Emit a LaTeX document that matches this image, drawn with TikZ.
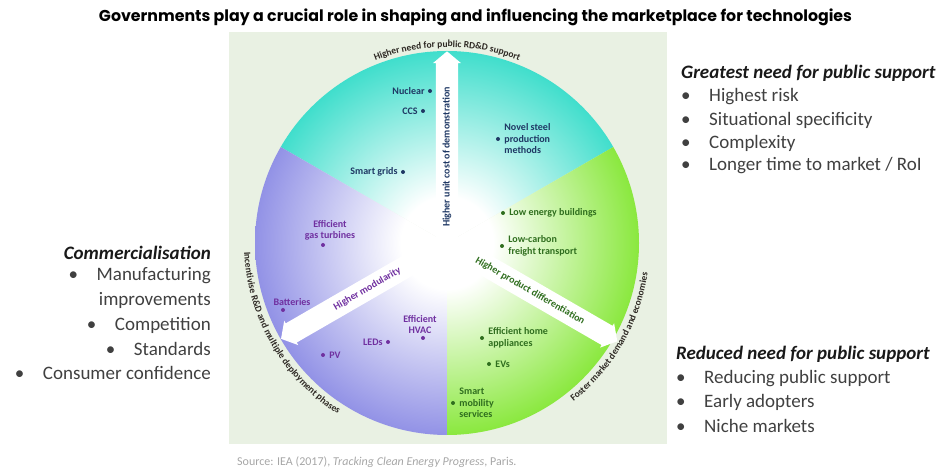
\documentclass[tikz,border=0pt]{standalone}
\usepackage{fontspec}
\setmainfont{Carlito}
\newfontfamily\titlefont{Poppins}
\usetikzlibrary{positioning,shapes.arrows,decorations.text}

\definecolor{panel}{RGB}{233,241,227}
\definecolor{turq}{RGB}{64,222,204}
\definecolor{lav}{RGB}{146,146,230}
\definecolor{lime}{RGB}{138,232,62}
\definecolor{navytxt}{RGB}{31,56,100}
\definecolor{greentxt}{RGB}{47,110,30}
\definecolor{purptxt}{RGB}{112,48,160}
\definecolor{arctxt}{RGB}{45,40,35}
\definecolor{itemgray}{RGB}{64,64,64}
\definecolor{srcgray}{RGB}{166,166,166}

\pgfdeclareradialshading{turqshade}{\pgfpoint{0bp}{0bp}}{color(0bp)=(white); color(6bp)=(white); color(25bp)=(turq); color(50bp)=(turq)}
\pgfdeclareradialshading{lavshade}{\pgfpoint{0bp}{0bp}}{color(0bp)=(white); color(6bp)=(white); color(25bp)=(lav); color(50bp)=(lav)}
\pgfdeclareradialshading{limeshade}{\pgfpoint{0bp}{0bp}}{color(0bp)=(white); color(6bp)=(white); color(25bp)=(lime); color(50bp)=(lime)}

\newcommand{\arcfont}{\fontsize{9.5}{10}\selectfont\bfseries\color{arctxt}}
\newcommand{\bul}{\makebox[28pt][l]{\textbullet}}

\tikzset{arclabel/.style={decorate, decoration={text along path, text align=center, text={|\arcfont|#1}}}}

\begin{document}
\begin{tikzpicture}[x=1pt, y=1pt]
	\tikzstyle{techdot} = [circle, inner sep=0pt, minimum size=4pt]
	\tikzstyle{bluelab} = [inner sep=1pt, align=left, text=navytxt, font=\fontsize{10}{11.5}\selectfont\bfseries]
	\tikzstyle{greenlab} = [inner sep=1pt, align=left, text=greentxt, font=\fontsize{10}{11.5}\selectfont\bfseries]
	\tikzstyle{purplelab} = [inner sep=1pt, align=center, text=purptxt, font=\fontsize{10}{11.5}\selectfont\bfseries]
	\tikzstyle{bigarrow} = [single arrow, fill=white, inner xsep=2pt, inner ysep=6.5pt, single arrow head extend=3pt, single arrow tip angle=100, font=\fontsize{10}{11}\selectfont\bfseries]
	\tikzstyle{listhead} = [inner sep=0pt, text=black!90, font=\fontsize{19}{22}\selectfont\bfseries\itshape]
	\tikzstyle{listitem} = [inner sep=0pt, text=itemgray, font=\fontsize{19}{22}\selectfont]
	\useasboundingbox (0,0) rectangle (945,468);

	% title
	\node (title) [inner sep=0pt] at (475.5,451) {\resizebox{753pt}{!}{\titlefont\bfseries\fontsize{15}{18}\selectfont Governments play a crucial role in shaping and influencing the marketplace for technologies}};

	% panel and wheel
	\fill[panel] (229,24) rectangle (667,436);
	\coordinate (c) at (447,225);
	\begin{scope}
		\clip (c) -- ([shift={(30:192)}]c) arc[start angle=30, end angle=150, radius=192] -- cycle;
		\shade[shading=turqshade] (c) circle[radius=192];
	\end{scope}
	\begin{scope}
		\clip (c) -- ([shift={(150:192)}]c) arc[start angle=150, end angle=270, radius=192] -- cycle;
		\shade[shading=lavshade] (c) circle[radius=192];
	\end{scope}
	\begin{scope}
		\clip (c) -- ([shift={(270:192)}]c) arc[start angle=270, end angle=390, radius=192] -- cycle;
		\shade[shading=limeshade] (c) circle[radius=192];
	\end{scope}

	% labels round the wheel
	\path[arclabel={Higher need for public RD{\&}D support}] ([shift={(135:196)}]c) arc[start angle=135, end angle=45, radius=196];
	\path[arclabel={Incentivise R{\&}D and multiple deployment phases}] ([shift={(155:203)}]c) arc[start angle=155, end angle=265, radius=203];
	\path[arclabel={Foster market demand and economies}] ([shift={(275:203)}]c) arc[start angle=275, end angle=385, radius=203];

	% arrows
	\node (demo) [bigarrow, rotate=90, minimum height=202pt] at ([shift={(90:86)}]c) {\color{navytxt}Higher unit cost of demonstration};
	\node (modular) [bigarrow, rotate=30, shape border rotate=180, minimum height=190pt] at ([shift={(210:92)}]c) {\color{purptxt}Higher modularity};
	\node (product) [bigarrow, rotate=-30, minimum height=192pt] at ([shift={(330:96)}]c) {\color{greentxt}Higher product differentiation};

	% technologies
	\node (nuclear) [techdot, fill=navytxt] at (430,377) {};
	\node (nuclearlab) [bluelab, left=2pt of nuclear] {Nuclear};
	\node (ccs) [techdot, fill=navytxt] at (423,357) {};
	\node (ccslab) [bluelab, left=2pt of ccs] {CCS};
	\node (grids) [techdot, fill=navytxt] at (403,296) {};
	\node (gridslab) [bluelab, left=2pt of grids] {Smart grids};
	\node (steel) [techdot, fill=navytxt] at (498,329) {};
	\node (steellab) [bluelab, right=3pt of steel] {Novel steel\\production\\methods};

	\node (build) [techdot, fill=greentxt] at (503,255) {};
	\node (buildlab) [greenlab, right=3pt of build] {Low energy buildings};
	\node (freight) [techdot, fill=greentxt] at (502,222) {};
	\node (freightlab) [greenlab, right=3pt of freight] {Low-carbon\\freight transport};
	\node (homes) [techdot, fill=greentxt] at (482,130) {};
	\node (homeslab) [greenlab, right=3pt of homes] {Efficient home\\appliances};
	\node (evs) [techdot, fill=greentxt] at (489,104) {};
	\node (evslab) [greenlab, right=3pt of evs] {EVs};
	\node (mobility) [techdot, fill=greentxt] at (453,65) {};
	\node (mobilitylab) [greenlab, right=3pt of mobility] {Smart\\mobility\\services};

	\node (gas) [techdot, fill=purptxt] at (323,223) {};
	\node (gaslab) [purplelab, above=1pt of gas, xshift=7pt] {Efficient\\gas turbines};
	\node (batt) [techdot, fill=purptxt] at (283,158) {};
	\node (battlab) [purplelab, above=1pt of batt, xshift=9pt] {Batteries};
	\node (hvac) [techdot, fill=purptxt] at (423,130) {};
	\node (hvaclab) [purplelab, above=1pt of hvac, xshift=-3pt] {Efficient\\HVAC};
	\node (leds) [techdot, fill=purptxt] at (388,126) {};
	\node (ledslab) [purplelab, left=2pt of leds] {LEDs};
	\node (pv) [techdot, fill=purptxt] at (323,113) {};
	\node (pvlab) [purplelab, right=3pt of pv] {PV};

	% side lists
	\node (great) [listhead, anchor=west] at (681,395) {Greatest need for public support};
	\node (great1) [listitem, anchor=west] at (681,371) {\bul Highest risk};
	\node (great2) [listitem, anchor=west] at (681,348) {\bul Situational specificity};
	\node (great3) [listitem, anchor=west] at (681,325) {\bul Complexity};
	\node (great4) [listitem, anchor=west] at (681,302) {\bul Longer time to market / RoI};

	\node (reduced) [listhead, anchor=west] at (676,114) {Reduced need for public support};
	\node (reduced1) [listitem, anchor=west] at (676,89) {\bul Reducing public support};
	\node (reduced2) [listitem, anchor=west] at (676,66) {\bul Early adopters};
	\node (reduced3) [listitem, anchor=west] at (676,42) {\bul Niche markets};

	\node (comm) [listhead, anchor=east] at (211,215) {Commercialisation};
	\node (comm1) [listitem, anchor=east] at (211,192) {\bul Manufacturing};
	\node (comm1b) [listitem, anchor=east] at (211,168) {improvements};
	\node (comm2) [listitem, anchor=east] at (211,143) {\bul Competition};
	\node (comm3) [listitem, anchor=east] at (211,119) {\bul Standards};
	\node (comm4) [listitem, anchor=east] at (211,95) {\bul Consumer confidence};

	% source
	\node (source) [anchor=west, inner sep=0pt, text=srcgray, font=\fontsize{12}{14}\selectfont] at (237,6) {Source: IEA (2017), \textit{Tracking Clean Energy Progress}, Paris.};
\end{tikzpicture}
\end{document}
